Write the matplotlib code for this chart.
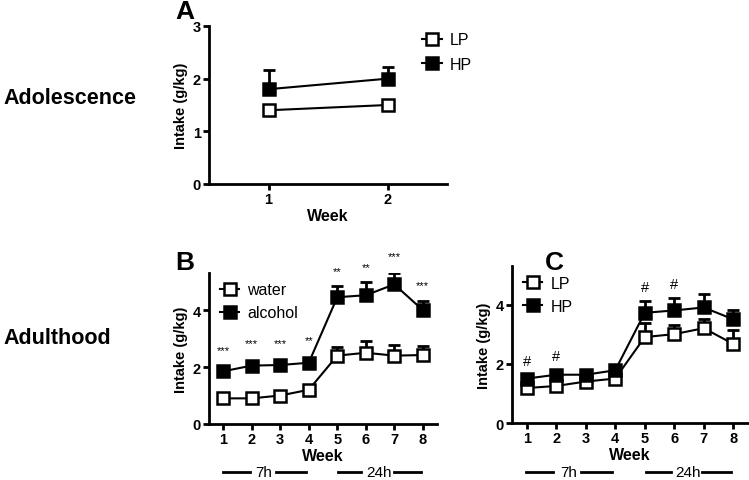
import numpy as np
import matplotlib
matplotlib.use("Agg")
import matplotlib.pyplot as plt
import matplotlib.transforms as mtransforms

plt.rcParams['font.family'] = ['Liberation Sans', 'DejaVu Sans']

# panel A: adolescence, LP vs HP
weeks_a = [1, 2]
lp_a = [1.4, 1.5]
lp_a_err = [0.0, 0.0]
hp_a = [1.8, 2.0]
hp_a_err = [0.37, 0.22]

# panel B: adulthood, water vs alcohol
weeks = [1, 2, 3, 4, 5, 6, 7, 8]
water = [0.9, 0.9, 1.0, 1.2, 2.4, 2.5, 2.4, 2.42]
water_err = [0.05, 0.05, 0.1, 0.1, 0.32, 0.43, 0.36, 0.33]
alcohol = [1.85, 2.05, 2.07, 2.15, 4.45, 4.52, 4.9, 4.0]
alcohol_err = [0.1, 0.1, 0.1, 0.1, 0.39, 0.46, 0.4, 0.3]
stars_b = ['***', '***', '***', '**', '**', '**', '***', '***']
stars_b_y = [2.6, 2.85, 2.85, 2.93, 5.37, 5.5, 5.9, 4.88]

# panel C: adulthood, LP vs HP
lp_c = [1.18, 1.25, 1.4, 1.5, 2.9, 3.0, 3.2, 2.67]
lp_c_err = [0.05, 0.05, 0.05, 0.05, 0.46, 0.3, 0.3, 0.48]
hp_c = [1.5, 1.63, 1.63, 1.78, 3.72, 3.8, 3.9, 3.5]
hp_c_err = [0.05, 0.05, 0.05, 0.05, 0.41, 0.43, 0.44, 0.3]
hash_weeks = [1, 2, 5, 6]
hash_y = [2.1, 2.27, 4.6, 4.7]

fig = plt.figure(figsize=(7.49, 4.81), dpi=100)

axA = fig.add_axes([209/749, 1-185/481, 238/749, 158/481])
axB = fig.add_axes([209/749, 1-425/481, 228/749, 151/481])
axC = fig.add_axes([512/749, 1-424/481, 236/749, 157/481])


def series(ax, x, y, err, filled, label):
    ax.errorbar(x, y, yerr=[np.zeros(len(err)), err], fmt='none', ecolor='black',
                elinewidth=2, capsize=4, capthick=2, zorder=2)
    ax.plot(x, y, color='black', lw=1.5, marker='s', markersize=9,
            markerfacecolor='black' if filled else 'white',
            markeredgecolor='black', markeredgewidth=1.8, zorder=3, label=label)


def style(ax, xlim, ylim, yticks):
    for s in ['top', 'right']:
        ax.spines[s].set_visible(False)
    for s in ['left', 'bottom']:
        ax.spines[s].set_linewidth(2)
    ax.set_xlim(*xlim)
    ax.set_ylim(*ylim)
    ax.set_yticks(yticks)
    ax.tick_params(width=2, length=4, labelsize=10.5, pad=2)
    for t in ax.get_xticklabels() + ax.get_yticklabels():
        t.set_fontweight('bold')
    ax.set_xlabel('Week', fontsize=11.5, fontweight='bold', labelpad=1)
    ax.set_ylabel('Intake (g/kg)', fontsize=10.5, fontweight='bold', labelpad=3)


series(axA, weeks_a, lp_a, lp_a_err, False, 'LP')
series(axA, weeks_a, hp_a, hp_a_err, True, 'HP')
axA.set_xticks(weeks_a)
style(axA, (0.5, 2.5), (0, 3), [0, 1, 2, 3])
axA.legend(loc='upper left', bbox_to_anchor=(0.87, 1.0), frameon=False, fontsize=11.5,
           handlelength=1.2, handletextpad=0.5, borderaxespad=0, labelspacing=0.6)

series(axB, weeks, water, water_err, False, 'water')
series(axB, weeks, alcohol, alcohol_err, True, 'alcohol')
axB.set_xticks(weeks)
style(axB, (0.5, 8.5), (0, 5.3), [0, 2, 4])
axB.legend(loc='upper left', bbox_to_anchor=(0.02, 0.98), frameon=False, fontsize=11.5,
           handlelength=1.2, handletextpad=0.5, borderaxespad=0, labelspacing=0.5)
for w, s, yy in zip(weeks, stars_b, stars_b_y):
    axB.text(w, yy, s, ha='center', va='center', fontsize=8, clip_on=False)

series(axC, weeks, lp_c, lp_c_err, False, 'LP')
series(axC, weeks, hp_c, hp_c_err, True, 'HP')
axC.set_xticks(weeks)
style(axC, (0.5, 8.5), (0, 5.3), [0, 2, 4])
axC.legend(loc='upper left', bbox_to_anchor=(0.02, 0.98), frameon=False, fontsize=11.5,
           handlelength=1.2, handletextpad=0.5, borderaxespad=0, labelspacing=0.5)
for w, yy in zip(hash_weeks, hash_y):
    axC.text(w, yy, '#', ha='center', va='center', fontsize=10.5)


def timeline(ax, segs, labels, ypos):
    tr = mtransforms.blended_transform_factory(ax.transData, ax.transAxes)
    for (x0, x1) in segs:
        ax.plot([x0, x1], [ypos, ypos], color='black', lw=2, transform=tr, clip_on=False)
    for (xc, txt) in labels:
        ax.text(xc, ypos, txt, transform=tr, ha='center', va='center', fontsize=11)


timeline(axB, [(0.99, 1.94), (2.86, 3.92), (5.04, 5.85), (6.98, 7.93)],
         [(2.42, '7h'), (6.45, '24h')], -0.318)
timeline(axC, [(0.97, 1.89), (2.84, 3.89), (5.04, 5.89), (6.95, 7.93)],
         [(2.42, '7h'), (6.45, '24h')], -0.312)

fig.text(175/749, 1-12/481, 'A', fontsize=19, fontweight='bold', va='center')
fig.text(175/749, 1-263/481, 'B', fontsize=19, fontweight='bold', va='center')
fig.text(545/749, 1-263/481, 'C', fontsize=19, fontweight='bold', va='center')
fig.text(3/749, 1-99/481, 'Adolescence', fontsize=15.5, fontweight='bold', va='center')
fig.text(3/749, 1-339/481, 'Adulthood', fontsize=15.5, fontweight='bold', va='center')

fig.savefig('out.png', dpi=100)
